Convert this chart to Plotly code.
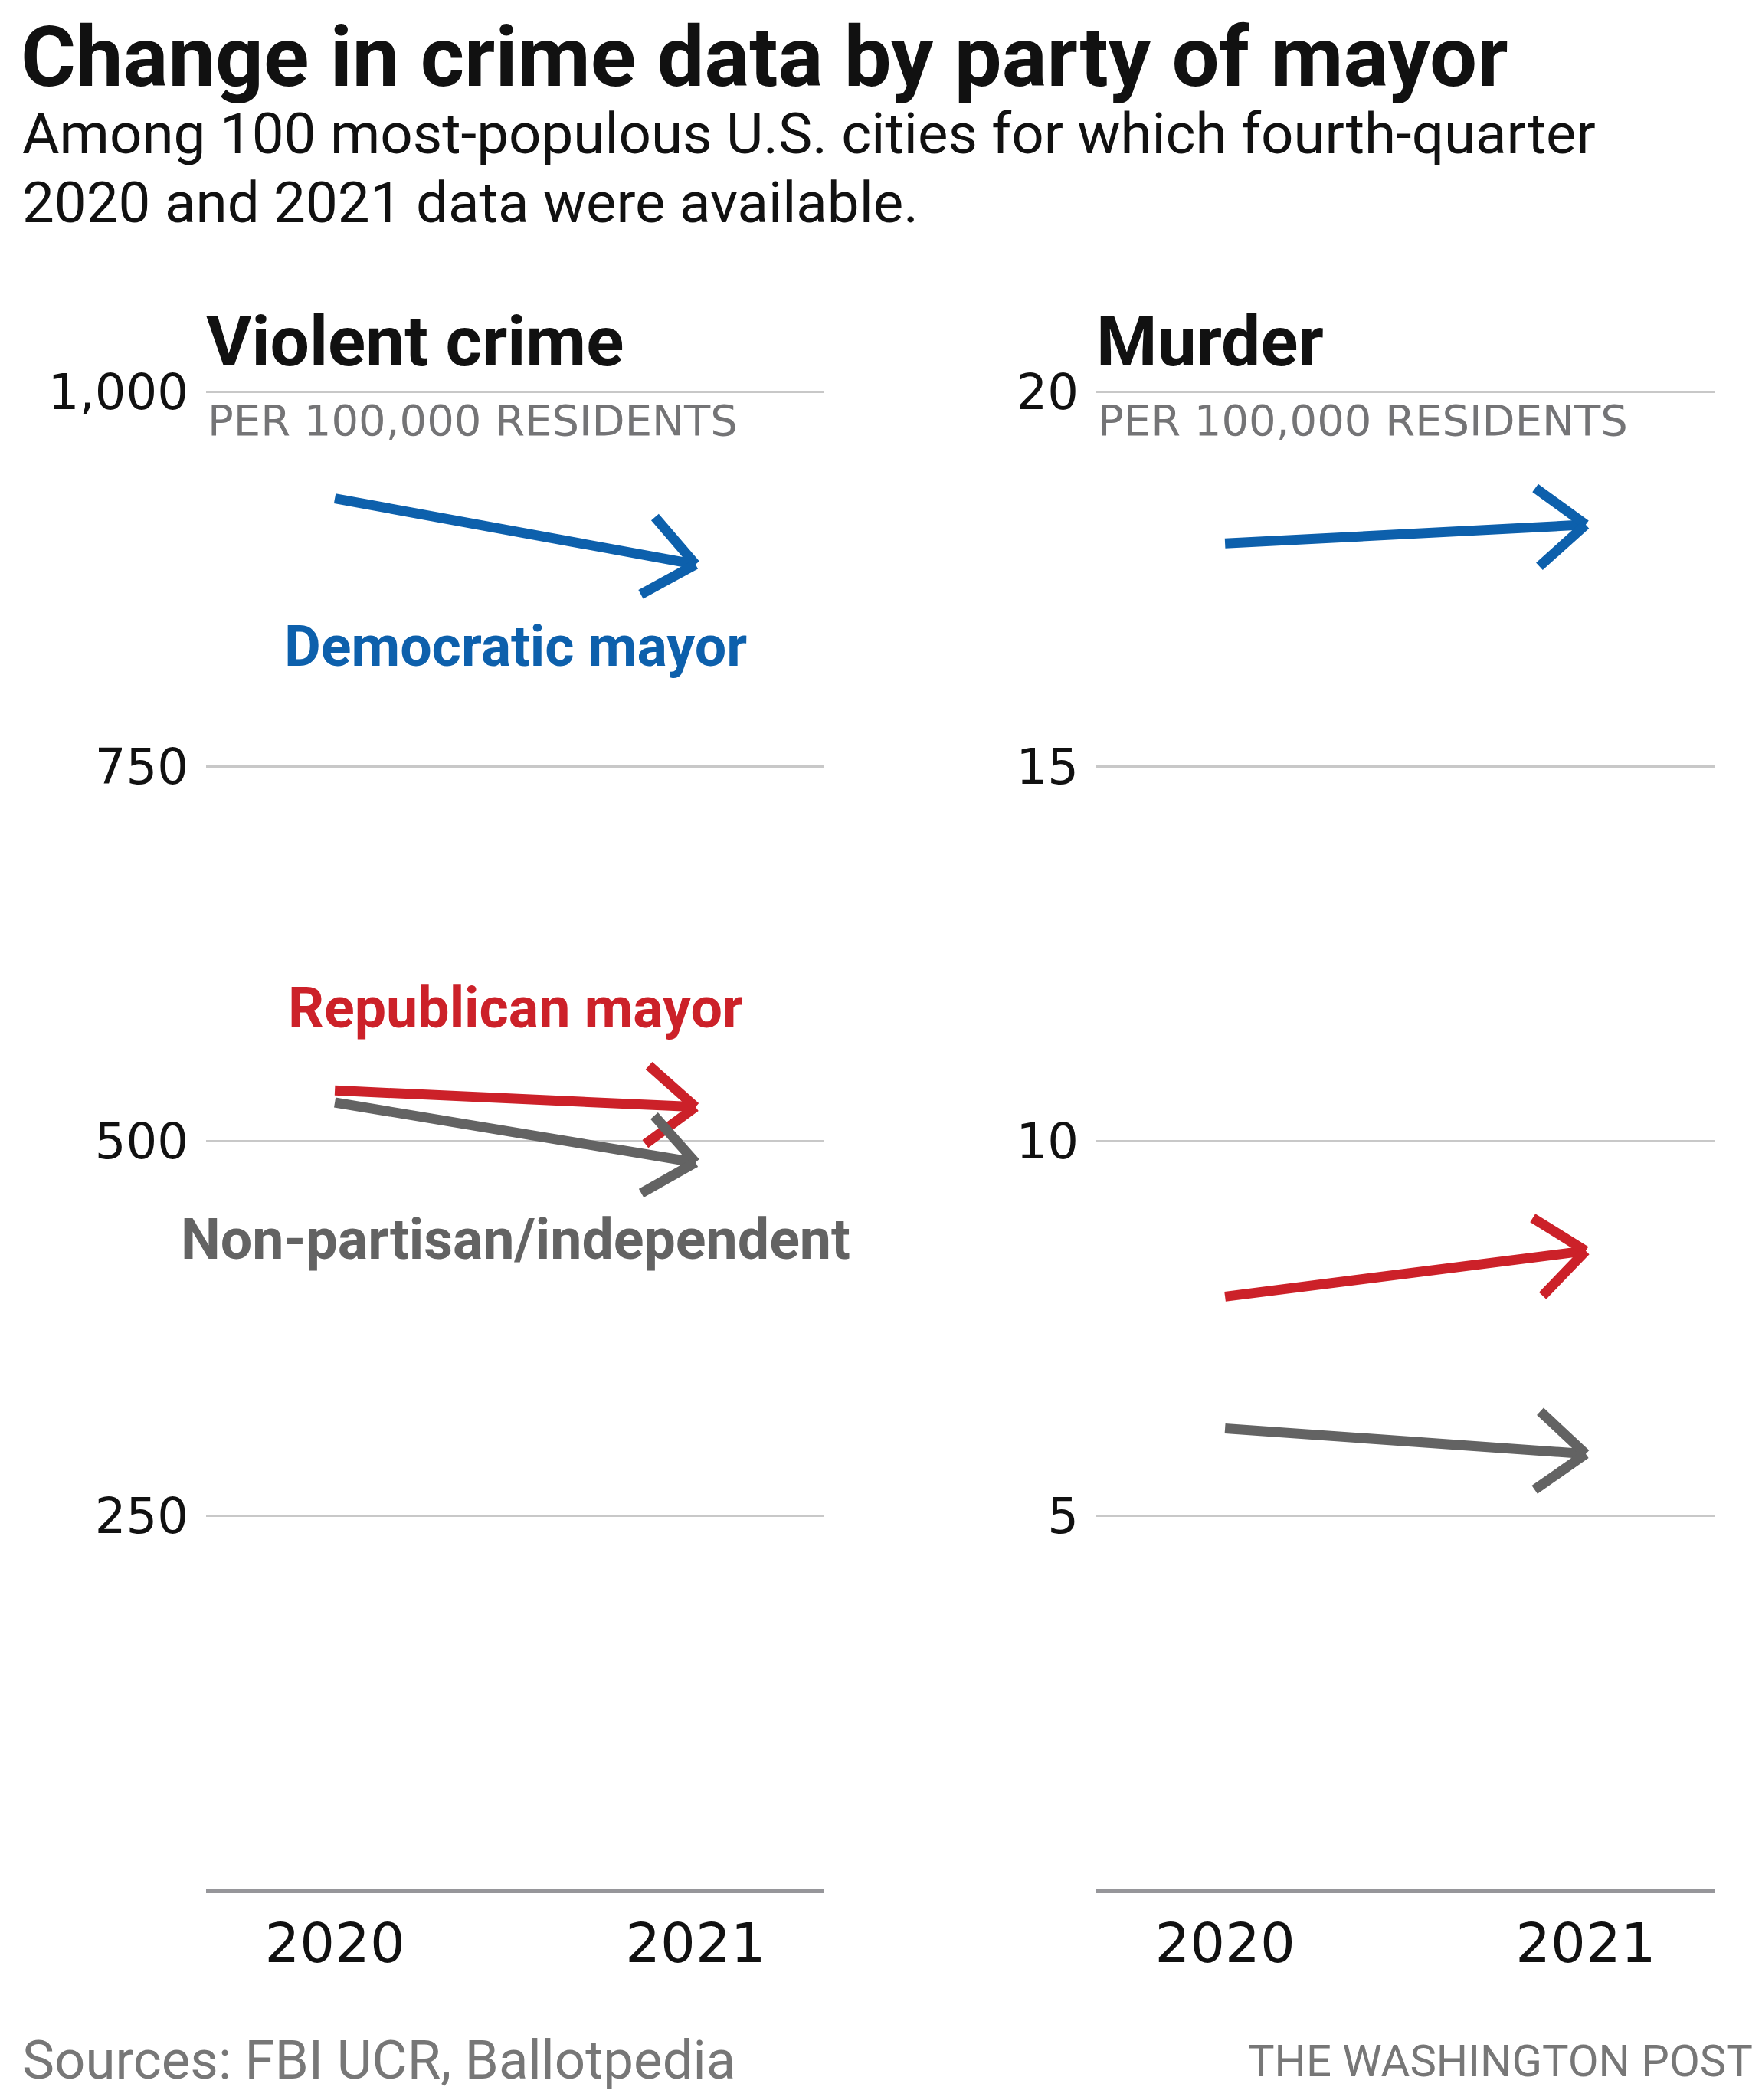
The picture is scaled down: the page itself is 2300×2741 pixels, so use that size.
import math
import plotly.graph_objects as go

# ---------------- data ----------------
years = [2020, 2021]
year_labels = ["2020", "2021"]
parties = ["Democratic mayor", "Republican mayor", "Non-partisan/independent"]
violent_2020 = [929, 534, 526]
violent_2021 = [885, 523, 486]
murder_2020 = [17.98, 7.93, 6.17]
murder_2021 = [18.23, 8.54, 5.83]
violent_ticks = [250, 500, 750, 1000]
violent_ticktext = ["250", "500", "750", "1,000"]
murder_ticks = [5, 10, 15, 20]
murder_ticktext = ["5", "10", "15", "20"]

# ---------------- style / layout constants ----------------
colors = ["#0d60ac", "#cc2129", "#636363"]
OFF = 8                      # page margin around the figure
FIG_W, FIG_H = 2300 - 2 * OFF, 2741 - 2 * OFF
PANEL_PX = [(269, 1076), (1431, 2238)]   # left/right pixel edges (page coords)
TOP_PX, ZERO_PX = 511.7, 2468.0          # pixel rows of top gridline and zero line
XR = [2019.643, 2021.357]
LINE_W = 13
ARM_LEN = 82
ARM_ANGLE = math.radians(39)
LABEL_Y = [830, 589, 434.5]             # label centres (violent-crime units)
LABEL_X = 2020.5

TEXT_FONT = "Roboto"
NUM_FONT = "DejaVu Sans"


def px_x(px):
    return (px - OFF) / FIG_W


def px_y(py):
    return 1 - (py - OFF) / FIG_H


panels = [
    dict(v20=violent_2020, v21=violent_2021, ymax=violent_ticks[-1],
         tv=violent_ticks, tt=violent_ticktext, xa="x", ya="y", title="Violent crime"),
    dict(v20=murder_2020, v21=murder_2021, ymax=murder_ticks[-1],
         tv=murder_ticks, tt=murder_ticktext, xa="x2", ya="y2", title="Murder"),
]

fig = go.Figure()
layout_axes = {}

for i, p in enumerate(panels):
    x0, x1 = PANEL_PX[i]
    ymax = p["ymax"]
    ppy = (ZERO_PX - TOP_PX) / ymax
    pad = ymax * 0.005
    bottom_px = ZERO_PX + pad * ppy
    top_px = TOP_PX - pad * ppy
    ppx = (x1 - x0) / (XR[1] - XR[0])

    for j in range(len(parties)):
        # shaft
        fig.add_trace(go.Scatter(
            x=years, y=[p["v20"][j], p["v21"][j]], mode="lines",
            line=dict(color=colors[j], width=LINE_W),
            xaxis=p["xa"], yaxis=p["ya"], hoverinfo="skip", showlegend=False,
        ))
        # chevron arms, anchored at the 2021 value
        dx = (years[1] - years[0]) * ppx
        dy = -(p["v21"][j] - p["v20"][j]) * ppy
        n = math.hypot(dx, dy)
        bx, by = -dx / n, -dy / n
        for s in (1, -1):
            c, sn = math.cos(s * ARM_ANGLE), math.sin(s * ARM_ANGLE)
            rx = bx * c - by * sn
            ry = bx * sn + by * c
            fig.add_annotation(
                x=years[1], y=p["v21"][j], xref=p["xa"], yref=p["ya"],
                ax=ARM_LEN * rx, ay=ARM_LEN * ry, axref="pixel", ayref="pixel",
                showarrow=True, arrowhead=0, arrowwidth=LINE_W,
                arrowcolor=colors[j], text="", standoff=0, startstandoff=0,
                font=dict(size=1), borderpad=0,
            )

    xkey = "xaxis" if i == 0 else "xaxis2"
    ykey = "yaxis" if i == 0 else "yaxis2"
    layout_axes[xkey] = dict(
        domain=[px_x(x0), px_x(x1)], range=XR, anchor=p["ya"],
        tickvals=years, ticktext=year_labels, showgrid=False, zeroline=False,
        showline=False, ticks="", ticklabelstandoff=10,
        tickfont=dict(family=NUM_FONT, size=72, color="#111111"),
        fixedrange=True, automargin=False,
    )
    layout_axes[ykey] = dict(
        domain=[px_y(bottom_px), px_y(top_px)], range=[-pad, ymax + pad],
        anchor=p["xa"], tickvals=p["tv"], ticktext=p["tt"],
        showgrid=True, gridcolor="#c8c8c8", gridwidth=3,
        zeroline=True, zerolinecolor="#96969a", zerolinewidth=6,
        showline=False, ticks="", ticklabelstandoff=22,
        tickfont=dict(family=NUM_FONT, size=64, color="#111111"),
        fixedrange=True, automargin=False,
    )

    # panel title and unit note
    fig.add_annotation(
        x=px_x(x0 - 2), y=px_y(446), xref="paper", yref="paper",
        xanchor="left", yanchor="middle", showarrow=False, text=p["title"],
        font=dict(family=TEXT_FONT, size=91, color="#111111", weight=700),
    )
    fig.add_annotation(
        x=px_x(x0), y=px_y(548), xref="paper", yref="paper",
        xanchor="left", yanchor="middle", showarrow=False,
        text="PER 100,000 RESIDENTS",
        font=dict(family=NUM_FONT, size=56, color="#747476"),
    )

# series labels (violent-crime panel)
for j, name in enumerate(parties):
    fig.add_annotation(
        x=LABEL_X, y=LABEL_Y[j], xref="x", yref="y", xanchor="center",
        yanchor="middle", showarrow=False, text=name,
        font=dict(family=TEXT_FONT, size=73.5, color=colors[j], weight=700),
    )

# headline texts
fig.add_annotation(
    x=px_x(26), y=px_y(75), xref="paper", yref="paper", xanchor="left",
    yanchor="middle", showarrow=False, borderpad=0,
    text="Change in crime data by party of mayor",
    font=dict(family=TEXT_FONT, size=110, color="#111111", weight=700),
)
fig.add_annotation(
    x=px_x(27), y=px_y(174), xref="paper", yref="paper", xanchor="left",
    yanchor="middle", showarrow=False,
    text="Among 100 most-populous U.S. cities for which fourth-quarter",
    font=dict(family=TEXT_FONT, size=74.5, color="#111111"),
)
fig.add_annotation(
    x=px_x(27), y=px_y(264), xref="paper", yref="paper", xanchor="left",
    yanchor="middle", showarrow=False,
    text="2020 and 2021 data were available.",
    font=dict(family=TEXT_FONT, size=74.5, color="#111111"),
)
fig.add_annotation(
    x=px_x(27), y=px_y(2688), xref="paper", yref="paper", xanchor="left",
    yanchor="middle", showarrow=False, text="Sources: FBI UCR, Ballotpedia",
    font=dict(family=TEXT_FONT, size=70.8, color="#777777"),
)
fig.add_annotation(
    x=px_x(2290), y=px_y(2690), xref="paper", yref="paper", xanchor="right",
    yanchor="middle", showarrow=False, text="THE WASHINGTON POST",
    font=dict(family=TEXT_FONT, size=58, color="#777777"),
)

fig.update_layout(
    width=FIG_W, height=FIG_H, margin=dict(l=0, r=0, t=0, b=0),
    paper_bgcolor="white", plot_bgcolor="white", showlegend=False,
    **layout_axes,
)

fig.write_html("out.html")
